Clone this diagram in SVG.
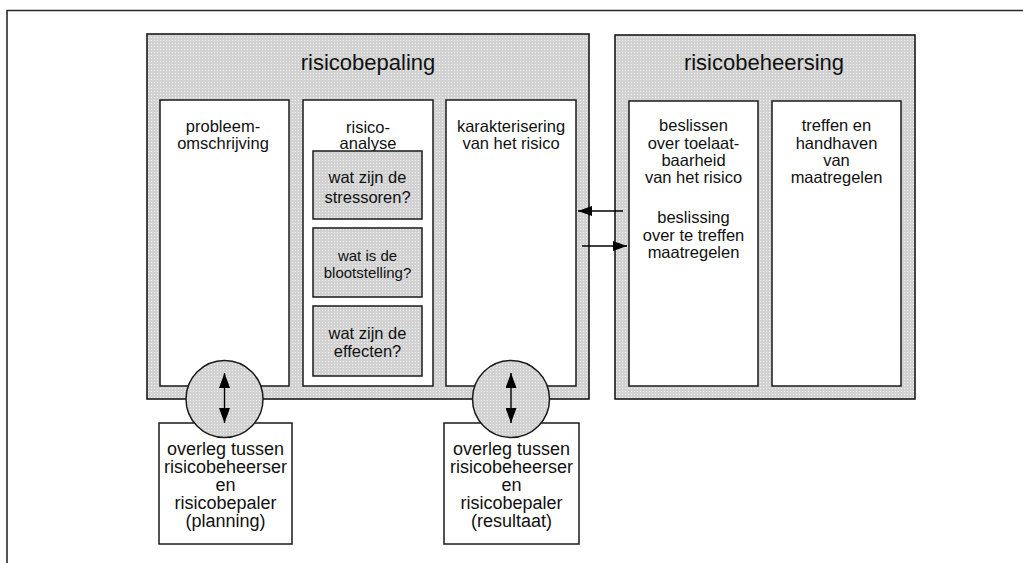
<svg xmlns="http://www.w3.org/2000/svg" width="1023" height="563" viewBox="0 0 1023 563">
  <defs>
    <!-- stippled grey fill used for the phase panels, sub-questions and hubs -->
    <pattern id="stipple" width="3" height="3" patternUnits="userSpaceOnUse">
      <rect width="3" height="3" fill="#d2d2d2"/>
      <rect x="1" y="1" width="1" height="1" fill="#f2f2f2"/>
    </pattern>
    <marker id="head" viewBox="0 0 14 10" markerWidth="14" markerHeight="10" refX="14" refY="5" markerUnits="userSpaceOnUse" orient="auto-start-reverse">
      <path d="M0,0 L14,5 L0,10 z" fill="#000"/>
    </marker>
    <marker id="vhead" viewBox="0 0 15 11" markerWidth="15" markerHeight="11" refX="15" refY="5.5" markerUnits="userSpaceOnUse" orient="auto-start-reverse">
      <path d="M0,0 L15,5.5 L0,11 z" fill="#000"/>
    </marker>
  </defs>
  <style>
    .panel { fill: url(#stipple); stroke: #1a1a1a; stroke-width: 1.6; }
    .box { fill: #fff; stroke: #1a1a1a; stroke-width: 1.5; }
    .sub { fill: url(#stipple); stroke: #1a1a1a; stroke-width: 1.5; }
    .hub { fill: url(#stipple); stroke: #1a1a1a; stroke-width: 1.5; }
    text { font-family: "Liberation Sans", Arial, sans-serif; fill: #111; text-anchor: middle; }
    .title { font-size: 22px; }
    .lbl { font-size: 16.5px; }
    .small { font-size: 15px; }
    .note { font-size: 18px; }
    .conn { stroke: #000; stroke-width: 1.4; fill: none; }
  </style>

  <rect width="1023" height="563" fill="#fff"/>
  <!-- frame -->
  <path d="M7,563 V10.5 H1023" fill="none" stroke="#2a2a2a" stroke-width="1.6"/>

  <!-- risk assessment panel -->
  <g id="risicobepaling">
    <rect class="panel" x="147" y="34" width="442" height="365"/>
    <text class="title" x="368" y="70">risicobepaling</text>
  </g>

  <g id="probleemomschrijving">
    <rect class="box" x="160" y="100" width="129" height="286"/>
    <text class="lbl" x="223" y="132">probleem-</text>
    <text class="lbl" x="223" y="148.5">omschrijving</text>
  </g>

  <g id="risicoanalyse">
    <rect class="box" x="303" y="100" width="130" height="286"/>
    <text class="lbl" x="368" y="133">risico-</text>
    <text class="lbl" x="368" y="149">analyse</text>
  </g>

  <g id="stressoren">
    <rect class="sub" x="313" y="151" width="109" height="68"/>
    <text class="lbl" x="367.5" y="183">wat zijn de</text>
    <text class="lbl" x="367.5" y="203">stressoren?</text>
  </g>

  <g id="blootstelling">
    <rect class="sub" x="313" y="228" width="109" height="69"/>
    <text class="small" x="367.5" y="261">wat is de</text>
    <text class="small" x="367.5" y="278">blootstelling?</text>
  </g>

  <g id="effecten">
    <rect class="sub" x="313" y="306" width="109" height="70"/>
    <text class="lbl" x="367.5" y="339">wat zijn de</text>
    <text class="lbl" x="367.5" y="357">effecten?</text>
  </g>

  <g id="karakterisering">
    <rect class="box" x="446" y="100" width="130" height="286"/>
    <text class="lbl" x="511" y="132">karakterisering</text>
    <text class="lbl" x="511" y="148.5">van het risico</text>
  </g>

  <!-- risk management panel -->
  <g id="risicobeheersing">
    <rect class="panel" x="615" y="35" width="300" height="364"/>
    <text class="title" x="764" y="70">risicobeheersing</text>
  </g>

  <g id="beslissen">
    <rect class="box" x="629" y="101" width="129" height="285"/>
    <text class="lbl" x="693.5" y="131">beslissen</text>
    <text class="lbl" x="693.5" y="149">over toelaat-</text>
    <text class="lbl" x="693.5" y="166">baarheid</text>
    <text class="lbl" x="693.5" y="183">van het risico</text>
    <text class="lbl" x="693.5" y="223">beslissing</text>
    <text class="lbl" x="693.5" y="241">over te treffen</text>
    <text class="lbl" x="693.5" y="258">maatregelen</text>
  </g>

  <g id="maatregelen">
    <rect class="box" x="772" y="101" width="129" height="285"/>
    <text class="lbl" x="836.5" y="131">treffen en</text>
    <text class="lbl" x="836.5" y="149">handhaven</text>
    <text class="lbl" x="836.5" y="166">van</text>
    <text class="lbl" x="836.5" y="183">maatregelen</text>
  </g>

  <!-- consultation boxes -->
  <g id="overleg-planning">
    <rect class="box" x="159" y="423" width="133" height="121"/>
    <text class="note" x="225.5" y="455">overleg tussen</text>
    <text class="note" x="225.5" y="473">risicobeheerser</text>
    <text class="note" x="225.5" y="491">en</text>
    <text class="note" x="225.5" y="509">risicobepaler</text>
    <text class="note" x="225.5" y="527">(planning)</text>
  </g>

  <g id="overleg-resultaat">
    <rect class="box" x="444" y="423" width="135" height="121"/>
    <text class="note" x="511.5" y="455">overleg tussen</text>
    <text class="note" x="511.5" y="473">risicobeheerser</text>
    <text class="note" x="511.5" y="491">en</text>
    <text class="note" x="511.5" y="509">risicobepaler</text>
    <text class="note" x="511.5" y="527">(resultaat)</text>
  </g>

  <!-- exchange hubs -->
  <g id="hub-planning">
    <circle class="hub" cx="224.5" cy="399" r="38.5"/>
  </g>
  <g id="hub-resultaat">
    <circle class="hub" cx="511" cy="399" r="38.5"/>
  </g>

  <!-- connectors -->
  <g id="connectors">
    <line class="conn" x1="623" y1="211" x2="578" y2="211" marker-end="url(#head)"/>
    <line class="conn" x1="582" y1="246" x2="627" y2="246" marker-end="url(#head)"/>
    <line class="conn" x1="224.5" y1="373" x2="224.5" y2="423" marker-start="url(#vhead)" marker-end="url(#vhead)"/>
    <line class="conn" x1="511" y1="373" x2="511" y2="423" marker-start="url(#vhead)" marker-end="url(#vhead)"/>
  </g>
</svg>
